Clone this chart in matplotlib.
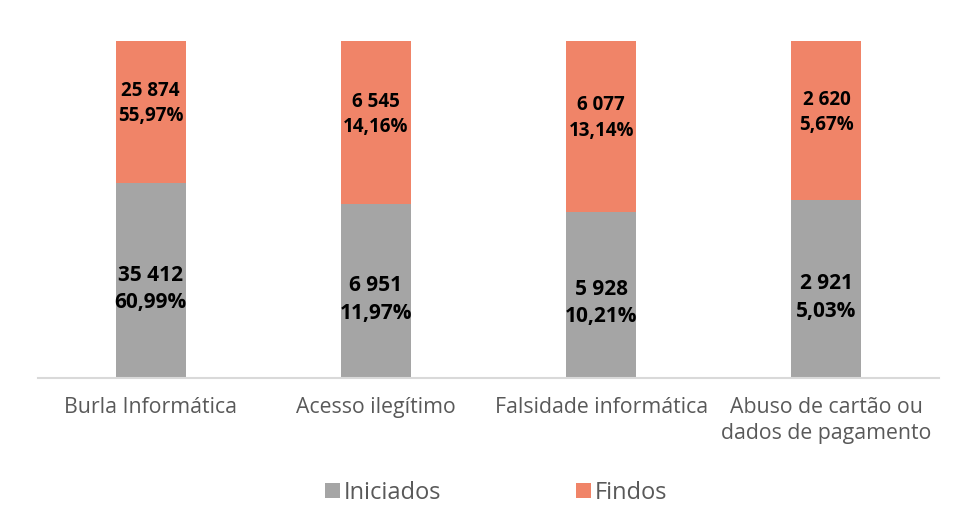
import numpy as np
import matplotlib.pyplot as plt
import matplotlib as mpl

mpl.rcParams['font.family'] = ['Open Sans', 'DejaVu Sans']

categories = ['Burla Informática', 'Acesso ilegítimo', 'Falsidade informática',
              'Abuso de cartão ou\ndados de pagamento']
iniciados = [35412, 6951, 5928, 2921]
findos = [25874, 6545, 6077, 2620]
iniciados_pct = ['60,99%', '11,97%', '10,21%', '5,03%']
findos_pct = ['55,97%', '14,16%', '13,14%', '5,67%']

grey = '#A5A5A5'
orange = '#F08468'


def fmt(v):
    return '{:,}'.format(v).replace(',', ' ')


ini = np.array(iniciados, dtype=float)
fin = np.array(findos, dtype=float)
tot = ini + fin
ini_s = ini / tot
fin_s = fin / tot

fig = plt.figure(figsize=(9.57, 5.26), dpi=100)
ax = fig.add_axes([0.0397, 0.2814, 0.9415, 0.6406])

x = np.arange(len(categories))
w = 0.31
ax.bar(x, ini_s, w, color=grey, label='Iniciados')
ax.bar(x, fin_s, w, bottom=ini_s, color=orange, label='Findos')

for i in range(len(categories)):
    ax.text(x[i], ini_s[i] / 2 - 0.025, fmt(iniciados[i]) + '\n' + iniciados_pct[i],
            ha='center', va='center', fontsize=15, fontweight='bold',
            linespacing=1.4, color='black')
    ax.text(x[i], ini_s[i] + fin_s[i] / 2 + 0.025, fmt(findos[i]) + '\n' + findos_pct[i],
            ha='center', va='center', fontsize=13.5, fontweight='bold',
            linespacing=1.35, color='black')

ax.set_xlim(-0.5, len(categories) - 0.5)
ax.set_ylim(0, 1)
ax.set_yticks([])
ax.set_xticks(x)
ax.set_xticklabels(categories, fontsize=15.3, color='#595959', linespacing=1.3)
ax.tick_params(axis='x', length=0, pad=14)
for s in ['top', 'right', 'left']:
    ax.spines[s].set_visible(False)
ax.spines['bottom'].set_color('#D9D9D9')
ax.spines['bottom'].set_linewidth(1.5)

fig.legend(loc='center', bbox_to_anchor=(0.518, 0.063), ncol=2, frameon=False,
           fontsize=17, handlelength=0.65, handleheight=0.65, handletextpad=0.15,
           columnspacing=5.7, labelcolor='#595959')

plt.savefig('out.png', dpi=100)
